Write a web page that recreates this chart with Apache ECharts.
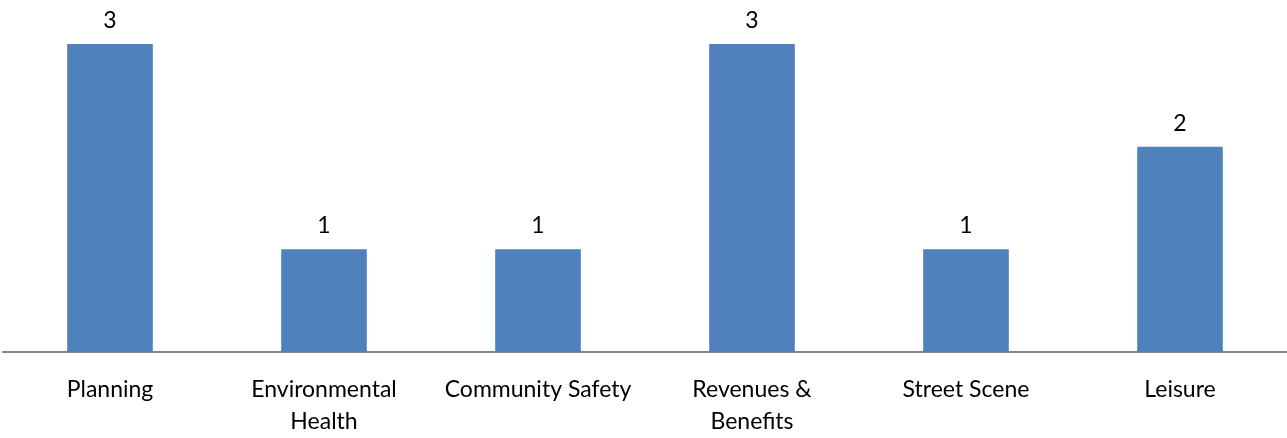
<!DOCTYPE html>
<html><head><meta charset="utf-8">
<script src="https://cdn.jsdelivr.net/npm/echarts@6/dist/echarts.min.js"></script>
<style>html,body{margin:0;padding:0;background:#fff}#c{width:1287px;height:438px}</style>
</head><body><div id="c"></div>
<script>
const categories = ["Planning", "Environmental\nHealth", "Community Safety", "Revenues &\nBenefits", "Street Scene", "Leisure"];
const values = [3, 1, 1, 3, 1, 2];
const chart = echarts.init(document.getElementById('c'), null, {renderer: 'canvas'});
chart.setOption({
  animation: false,
  grid: {left: 3, right: 0, top: 44, bottom: 82, containLabel: false},
  xAxis: {
    type: 'category', data: categories,
    axisLine: {lineStyle: {color: '#868686', width: 2}},
    axisTick: {show: false},
    axisLabel: {interval: 0, color: '#000', fontFamily: 'Lato', fontSize: 23, margin: 22, lineHeight: 32}
  },
  yAxis: {type: 'value', min: 0, max: 3, show: false, splitLine: {show: false}},
  series: [{
    type: 'bar', data: values, barWidth: '40%',
    itemStyle: {color: '#4F81BD'},
    label: {show: true, position: 'top', distance: 12, color: '#000', fontFamily: 'Lato', fontSize: 23}
  }]
});
</script></body></html>
